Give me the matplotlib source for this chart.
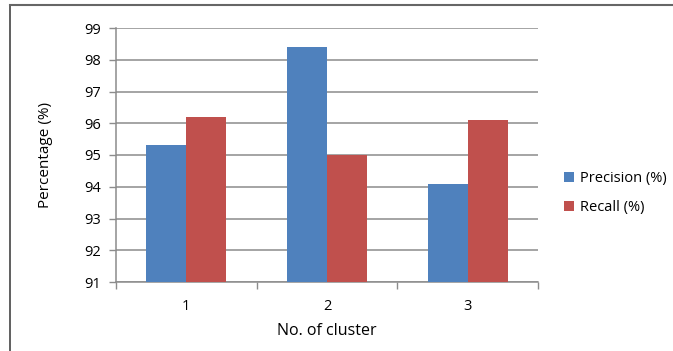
import numpy as np
import matplotlib
matplotlib.use('Agg')
import matplotlib.pyplot as plt
from matplotlib.lines import Line2D

clusters = ["1", "2", "3"]
precision = [95.3, 98.4, 94.1]
recall = [96.2, 95.0, 96.1]
y_ticks = [91, 92, 93, 94, 95, 96, 97, 98, 99]

plt.rcParams['font.family'] = ['Open Sans', 'DejaVu Sans']

fig = plt.figure(figsize=(6.73, 3.51), dpi=100)
ax = fig.add_axes([116 / 673, 1 - 282 / 351, 422 / 673, 254 / 351])

x = np.arange(1, len(clusters) + 1)
w = 0.285
ax.bar(x - w / 2, [p - 91 for p in precision], w, bottom=91,
       color="#4F81BD", label="Precision (%)", zorder=3)
ax.bar(x + w / 2, [r - 91 for r in recall], w, bottom=91,
       color="#C0504D", label="Recall (%)", zorder=3)

ax.set_ylim(91, 99)
ax.set_xlim(0.5, len(clusters) + 0.5)
ax.set_yticks(y_ticks)
ax.yaxis.grid(True, color="#8c8c8c", linewidth=1.1, zorder=0)

# category boundaries as major ticks, labels as minor ticks
ax.set_xticks(np.arange(0.5, len(clusters) + 1, 1.0))
ax.set_xticklabels([])
ax.set_xticks(x, minor=True)
ax.set_xticklabels(clusters, minor=True)
ax.tick_params(axis="x", which="minor", length=0, pad=12, labelsize=10.5)
ax.tick_params(axis="x", which="major", length=5, color="#8c8c8c", width=1)
ax.tick_params(axis="y", length=5, color="#8c8c8c", width=1, pad=6, labelsize=10.5)

for s in ["top", "right"]:
    ax.spines[s].set_visible(False)
for s in ["left", "bottom"]:
    ax.spines[s].set_color("#8c8c8c")
    ax.spines[s].set_linewidth(1.1)

ax.set_ylabel("Percentage (%)", fontsize=11, labelpad=22)
ax.set_xlabel("No. of cluster", fontsize=11.5, labelpad=7)

ax.legend(loc="center left", bbox_to_anchor=(1.03, 0.35), frameon=False,
          fontsize=10.5, handlelength=0.7, handleheight=0.7,
          handletextpad=0.4, labelspacing=1.0)

# outer frame (left and top edges)
fig.add_artist(Line2D([10 / 673, 10 / 673], [0, 1 - 5 / 351],
                      transform=fig.transFigure, color="#444444", lw=1.2))
fig.add_artist(Line2D([10 / 673, 1], [1 - 5 / 351, 1 - 5 / 351],
                      transform=fig.transFigure, color="#666666", lw=1.5))

fig.savefig("out.png", dpi=100)
plt.close(fig)
